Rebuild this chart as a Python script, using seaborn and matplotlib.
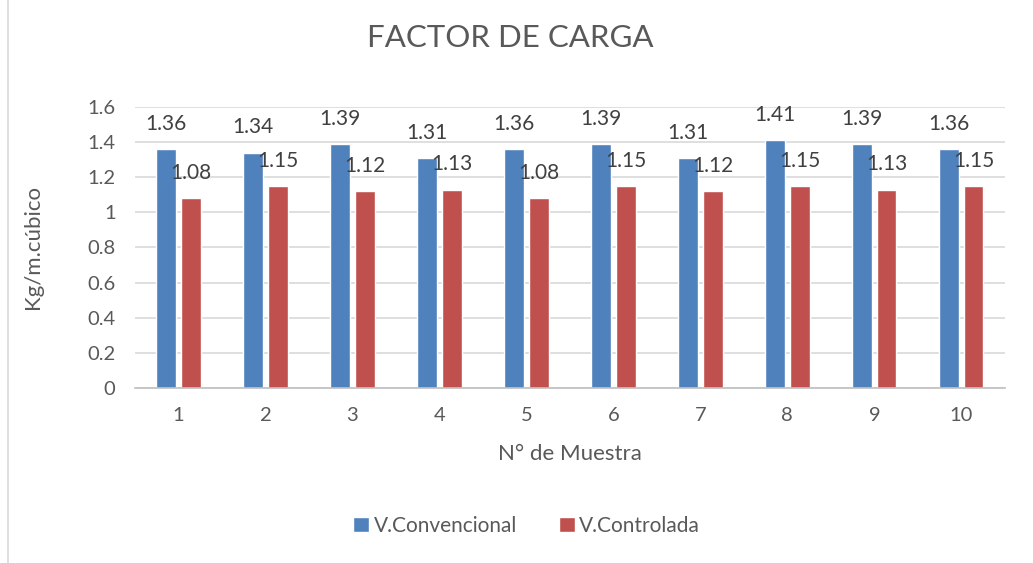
import numpy as np
import pandas as pd
import matplotlib
matplotlib.use('Agg')
import matplotlib.pyplot as plt
import seaborn as sns

# Data
muestras = ['1', '2', '3', '4', '5', '6', '7', '8', '9', '10']
convencional = [1.36, 1.34, 1.39, 1.31, 1.36, 1.39, 1.31, 1.41, 1.39, 1.36]
controlada = [1.08, 1.15, 1.12, 1.13, 1.08, 1.15, 1.12, 1.15, 1.13, 1.15]
series_names = ['V.Convencional', 'V.Controlada']
colors = ['#4f81bd', '#c0504d']

df = pd.DataFrame({
    'muestra': muestras * 2,
    'valor': convencional + controlada,
    'serie': [series_names[0]] * len(muestras) + [series_names[1]] * len(muestras),
})

sns.set_style('white')
plt.rcParams['font.family'] = ['Lato', 'DejaVu Sans']
txt = '#595959'

fig = plt.figure(figsize=(10.33, 5.63), dpi=100)
ax = fig.add_axes([0.1307, 0.3108, 0.842, 0.4992])

sns.barplot(data=df, x='muestra', y='valor', hue='serie', palette=colors,
            width=0.56, gap=0.18, ax=ax, legend=True, saturation=1)

# data labels above bars
for cont in ax.containers:
    for bar in cont:
        h = bar.get_height()
        ax.annotate(f'{h:.2f}', (bar.get_x() + bar.get_width() / 2, h),
                    xytext=(0, 11), textcoords='offset points',
                    ha='center', va='bottom', fontsize=15, color='#404040')

ax.set_ylim(0, 1.6)
ax.set_yticks(np.arange(0, 1.61, 0.2))
ax.set_yticklabels(['0', '0.2', '0.4', '0.6', '0.8', '1', '1.2', '1.4', '1.6'])
ax.set_xlim(-0.5, len(muestras) - 0.5)
ax.yaxis.grid(True, color='#d9d9d9', linewidth=1.2)
ax.set_axisbelow(True)

for s in ['top', 'right', 'left']:
    ax.spines[s].set_visible(False)
ax.spines['bottom'].set_color('#bfbfbf')
ax.spines['bottom'].set_linewidth(1.2)

ax.tick_params(axis='y', length=0, labelsize=14.5, labelcolor=txt, pad=14)
ax.tick_params(axis='x', which='major', length=0, labelsize=14.5, labelcolor=txt, pad=14)
ax.set_xticks(np.arange(-0.5, len(muestras), 1.0), minor=True)
ax.tick_params(axis='x', which='minor', length=7, color='#bfbfbf', width=1.2)

ax.set_xlabel('N° de Muestra', fontsize=16, color=txt, labelpad=14)
ax.set_ylabel('Kg/m.cúbico', fontsize=16, color=txt, labelpad=32)

fig.text(0.494, 0.932, 'FACTOR DE CARGA', ha='center', va='center',
         fontsize=22.5, color=txt)

leg = ax.legend(loc='center', bbox_to_anchor=(0.45, -0.49), ncol=2, frameon=False,
                fontsize=15, handlelength=0.8, handleheight=0.8,
                handletextpad=0.2, columnspacing=2.0)
for t in leg.get_texts():
    t.set_color(txt)

# chart frame line on the left
fig.add_artist(plt.Line2D([0.008, 0.008], [0, 1], color='#d9d9d9', linewidth=1.2))

fig.savefig('out.png', dpi=100)
